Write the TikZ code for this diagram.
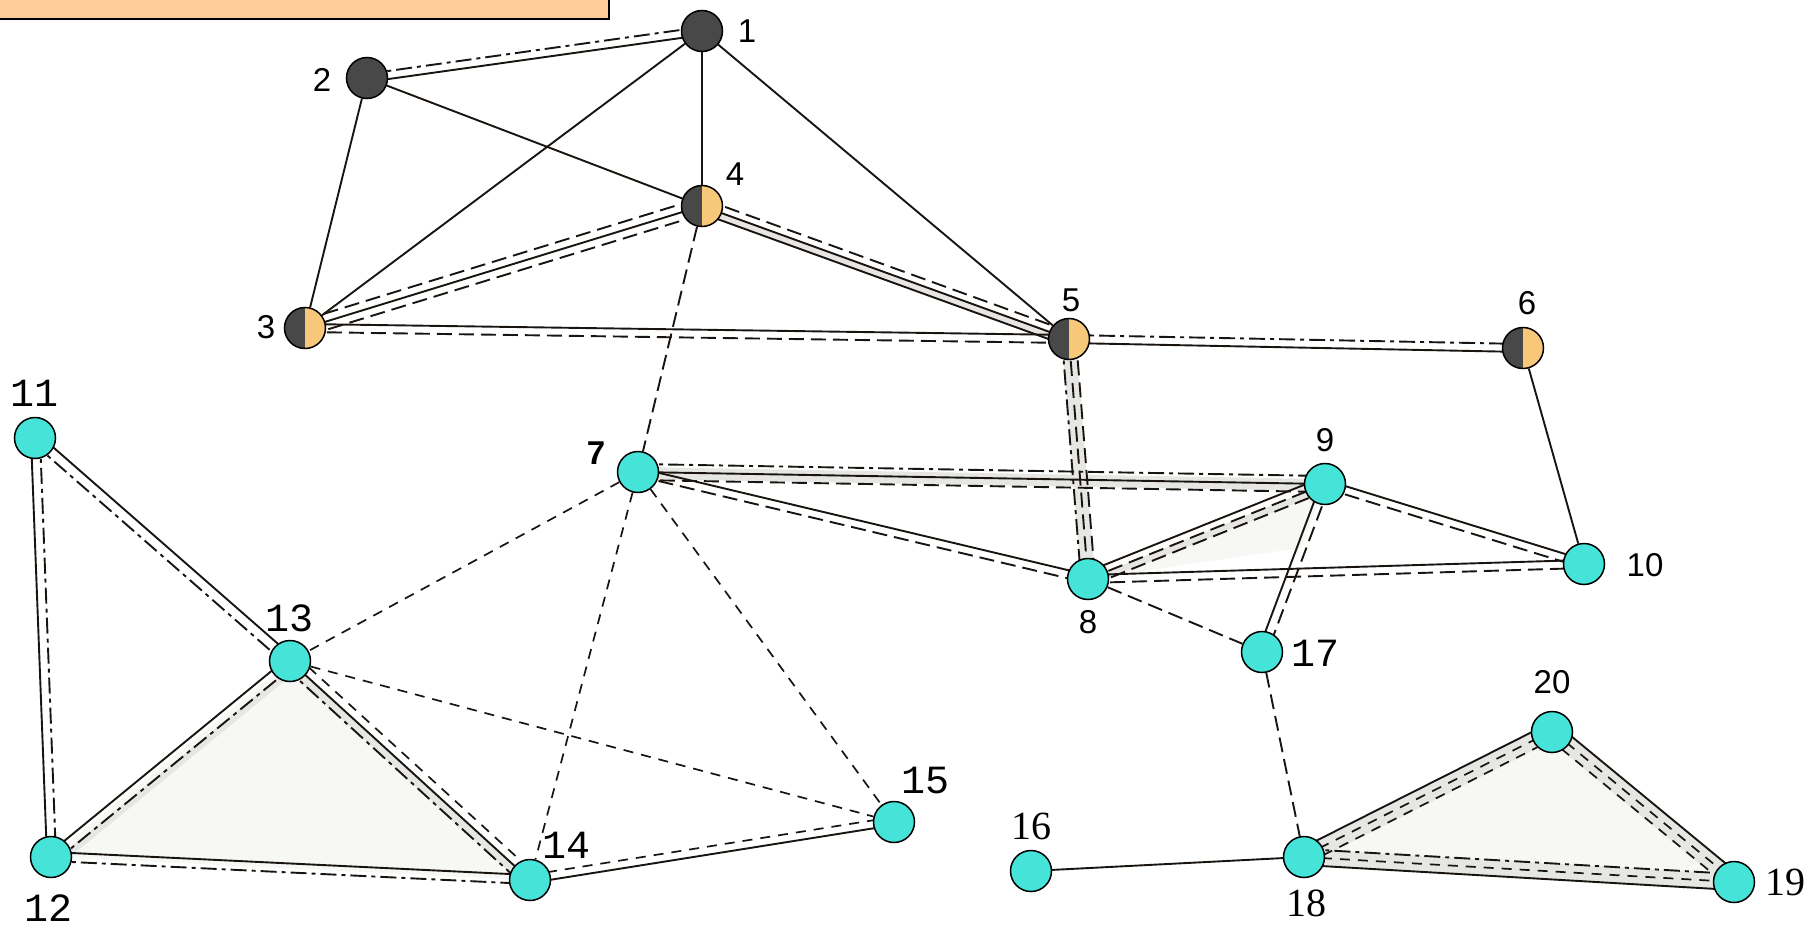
\documentclass[tikz,border=0pt]{standalone}
\usepackage{fontspec}
\setmainfont{Liberation Sans}
\newfontfamily\monofam{Liberation Mono}
\newfontfamily\seriffam{Liberation Serif}
\usetikzlibrary{calc}
\pgfdeclarelayer{shade}
\pgfdeclarelayer{edges}
\pgfsetlayers{shade,edges,main}

\definecolor{cyanfill}{RGB}{70,228,216}
\definecolor{darkfill}{RGB}{72,72,72}
\definecolor{halffill}{RGB}{248,200,122}
\definecolor{tabfill}{RGB}{255,204,153}
\definecolor{bandfill}{RGB}{230,230,228}
\definecolor{trifill}{RGB}{247,247,245}
\definecolor{inkline}{RGB}{25,20,15}

\tikzset{
  site/.style={circle, draw=black, line width=1.5pt, minimum size=41pt, inner sep=0pt},
  cy/.style={site, fill=cyanfill},
  dk/.style={site, fill=darkfill},
  hf/.style={site, fill=halffill, path picture={\fill[darkfill]
      (path picture bounding box.south west) rectangle (path picture bounding box.north);}},
  lbl/.style={inner sep=0pt, font=\fontsize{33}{33}\selectfont},
  lblb/.style={inner sep=0pt, font=\bfseries\fontsize{33}{33}\selectfont},
  lblm/.style={inner sep=0pt, font=\monofam\fontsize{40}{40}\selectfont},
  lbls/.style={inner sep=0pt, font=\seriffam\fontsize{40}{40}\selectfont},
  sol/.style={line width=1.9pt, inkline},
  dsh/.style={line width=1.9pt, inkline, dash pattern=on 15pt off 7pt},
  sdsh/.style={line width=1.7pt, inkline, dash pattern=on 10pt off 8pt},
  dd/.style={line width=1.9pt, inkline, dash pattern=on 16pt off 5pt on 4pt off 5pt},
}

% one line of a multi-line connector, shifted sideways by #3
\newcommand{\edgeline}[4]{%
  \draw[#4] ($(#1.center)!#3!90:(#2.center)$) -- ($(#2.center)!#3!-90:(#1.center)$);}
% grey strip between two side offsets #3 and #4
\newcommand{\band}[4]{%
  \fill[bandfill] ($(#1.center)!#3!90:(#2.center)$) -- ($(#2.center)!#3!-90:(#1.center)$)
    -- ($(#2.center)!#4!-90:(#1.center)$) -- ($(#1.center)!#4!90:(#2.center)$) -- cycle;}

\begin{document}
\begin{tikzpicture}[x=1pt,y=-1pt]
\useasboundingbox (0,0) rectangle (1816,926);
\clip (0,0) rectangle (1816,926);

% heading tab
\node[draw=black, line width=1.8pt, fill=tabfill, inner sep=0pt,
      minimum width=614pt, minimum height=44pt, anchor=south west] (tab) at (-6,20) {};

% sites
\node[dk] (n1) at (702,31) {};
\node[dk] (n2) at (367,78) {};
\node[hf] (n3) at (305,328) {};
\node[hf] (n4) at (702,206) {};
\node[hf] (n5) at (1069,339) {};
\node[hf] (n6) at (1523,348) {};
\node[cy] (n7) at (638,472) {};
\node[cy] (n8) at (1088,579) {};
\node[cy] (n9) at (1325,484) {};
\node[cy] (n10) at (1584,564) {};
\node[cy] (n11) at (35,438) {};
\node[cy] (n12) at (51,857) {};
\node[cy] (n13) at (290,661) {};
\node[cy] (n14) at (530,880) {};
\node[cy] (n15) at (894,822) {};
\node[cy] (n16) at (1031,871) {};
\node[cy] (n17) at (1262,652) {};
\node[cy] (n18) at (1304,857) {};
\node[cy] (n19) at (1734,882) {};
\node[cy] (n20) at (1552,732) {};

% labels
\node[lbl] (l1) at (747,31) {1};
\node[lbl] (l2) at (322,80) {2};
\node[lbl] (l3) at (266,327) {3};
\node[lbl] (l4) at (735,174) {4};
\node[lbl] (l5) at (1071,300) {5};
\node[lbl] (l6) at (1527,303) {6};
\node[lblb] (l7) at (596,453) {7};
\node[lbl] (l8) at (1088,622) {8};
\node[lbl] (l9) at (1325,440) {9};
\node[lbl] (l10) at (1645,565) {10};
\node[lblm] (l11) at (35,393) {11};
\node[lblm] (l12) at (49,908) {12};
\node[lblm] (l13) at (290,618) {13};
\node[lblm] (l14) at (566,845) {14};
\node[lblm] (l15) at (925,781) {15};
\node[lbls] (l16) at (1031,826) {16};
\node[lblm] (l17) at (1315,653) {17};
\node[lbls] (l18) at (1306,903) {18};
\node[lbls] (l19) at (1785,882) {19};
\node[lbl] (l20) at (1552,682) {20};

% shaded areas
\begin{pgfonlayer}{shade}
  \fill[trifill] (n12.center) -- (n13.center) -- (n14.center) -- cycle;
  \fill[trifill] (n18.center) -- (n20.center) -- (n19.center) -- cycle;
  \fill[trifill] (n8.center) -- (n9.center) -- ($(n9)!0.38!(n17)$) -- cycle;
  \band{n4}{n5}{0pt}{-7pt}
  \band{n5}{n8}{-7pt}{7pt}
  \band{n7}{n9}{-7pt}{5pt}
  \band{n8}{n9}{-7pt}{0pt}
  \band{n12}{n13}{-5pt}{-12pt}
  \band{n13}{n14}{-8pt}{0pt}
  \band{n18}{n20}{-8pt}{8pt}
  \band{n20}{n19}{-8pt}{8pt}
  \band{n18}{n19}{-8pt}{8pt}
\end{pgfonlayer}

% connectors
\begin{pgfonlayer}{edges}
  % upper group
  \edgeline{n2}{n1}{4pt}{dd}
  \edgeline{n2}{n1}{-4pt}{sol}
  \draw[sol] (n1) -- (n3);
  \draw[sol] (n1) -- (n4);
  \draw[sol] (n1) -- (n5);
  \draw[sol] (n2) -- (n3);
  \draw[sol] (n2) -- (n4);
  \edgeline{n3}{n4}{8pt}{dsh}
  \edgeline{n3}{n4}{0pt}{sol}
  \edgeline{n3}{n4}{-8pt}{dsh}
  \edgeline{n4}{n5}{7pt}{dsh}
  \edgeline{n4}{n5}{0pt}{sol}
  \edgeline{n4}{n5}{-7pt}{sol}
  \edgeline{n3}{n5}{4pt}{sol}
  \edgeline{n3}{n5}{-4pt}{dsh}
  \edgeline{n5}{n6}{4pt}{dd}
  \edgeline{n5}{n6}{-4pt}{sol}
  \draw[dsh] (n4) -- (n7);
  \draw[sol] (n6) -- (n10);
  % middle group
  \edgeline{n5}{n8}{-7pt}{dd}
  \edgeline{n5}{n8}{0pt}{dsh}
  \edgeline{n5}{n8}{7pt}{dsh}
  \edgeline{n7}{n9}{8pt}{dd}
  \edgeline{n7}{n9}{0pt}{sol}
  \edgeline{n7}{n9}{-8pt}{dsh}
  \edgeline{n7}{n8}{4pt}{sol}
  \edgeline{n7}{n8}{-4pt}{dsh}
  \edgeline{n8}{n9}{7pt}{sol}
  \edgeline{n8}{n9}{0pt}{dsh}
  \edgeline{n8}{n9}{-7pt}{dsh}
  \edgeline{n8}{n10}{4pt}{sol}
  \edgeline{n8}{n10}{-4pt}{dsh}
  \edgeline{n9}{n10}{4pt}{sol}
  \edgeline{n9}{n10}{-4pt}{dsh}
  \edgeline{n9}{n17}{5pt}{dsh}
  \edgeline{n9}{n17}{-4pt}{sol}
  \draw[dsh] (n8) -- (n17);
  \draw[dsh] (n17) -- (n18);
  % lower left group
  \draw[sdsh] (n7) -- (n13);
  \draw[sdsh] (n7) -- (n14);
  \draw[sdsh] (n7) -- (n15);
  \draw[sdsh] (n13) -- (n15);
  \edgeline{n14}{n15}{5pt}{sdsh}
  \edgeline{n14}{n15}{-3pt}{sol}
  \edgeline{n11}{n12}{5pt}{dd}
  \edgeline{n11}{n12}{-4pt}{sol}
  \edgeline{n11}{n13}{5pt}{sol}
  \edgeline{n11}{n13}{-5pt}{dd}
  \edgeline{n12}{n13}{4pt}{sol}
  \edgeline{n12}{n13}{-6pt}{dd}
  \edgeline{n13}{n14}{-8pt}{dd}
  \edgeline{n13}{n14}{0pt}{sol}
  \edgeline{n13}{n14}{8pt}{sdsh}
  \edgeline{n12}{n14}{5pt}{sol}
  \edgeline{n12}{n14}{-4pt}{dd}
  % lower right group
  \draw[sol] (n16) -- (n18);
  \edgeline{n18}{n20}{9pt}{sol}
  \edgeline{n18}{n20}{1pt}{sdsh}
  \edgeline{n18}{n20}{-7pt}{sdsh}
  \edgeline{n20}{n19}{9pt}{sol}
  \edgeline{n20}{n19}{1pt}{sdsh}
  \edgeline{n20}{n19}{-7pt}{sdsh}
  \edgeline{n18}{n19}{8pt}{dd}
  \edgeline{n18}{n19}{0pt}{sdsh}
  \edgeline{n18}{n19}{-8pt}{sol}
\end{pgfonlayer}
\end{tikzpicture}
\end{document}
